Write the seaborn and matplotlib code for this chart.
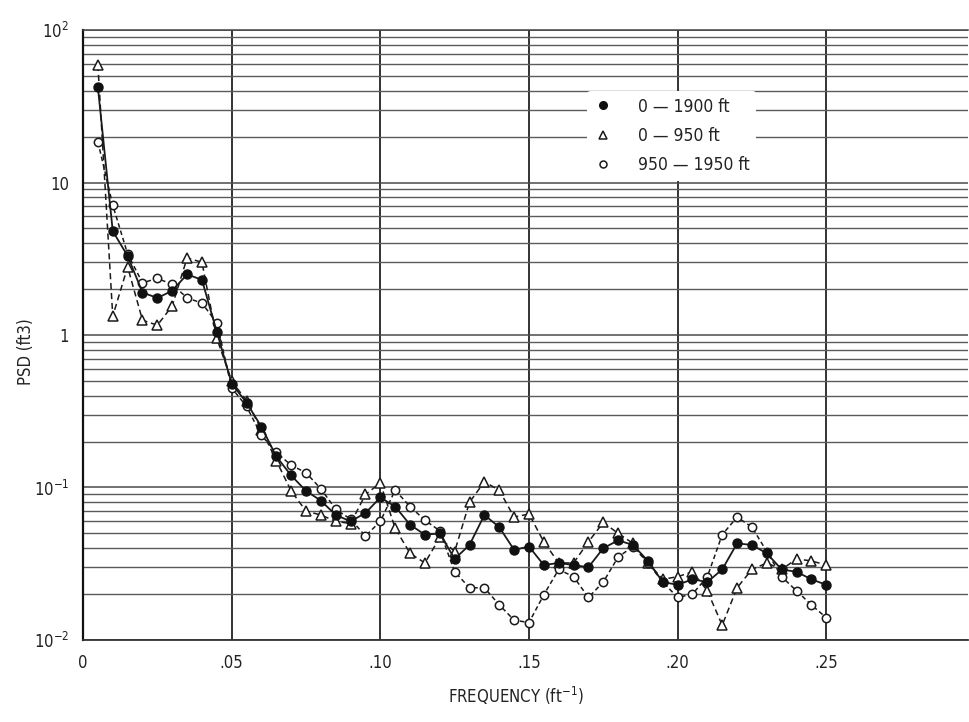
import matplotlib
matplotlib.use("Agg")
import matplotlib.pyplot as plt
from matplotlib.lines import Line2D
from matplotlib import font_manager
from matplotlib.ticker import FixedLocator, FixedFormatter, LogLocator, NullFormatter
import pandas as pd
import seaborn as sns

# Spatial frequency (cycles per ft)
freq = [0.005, 0.010, 0.015, 0.020, 0.025, 0.030, 0.035, 0.040, 0.045, 0.050,
        0.055, 0.060, 0.065, 0.070, 0.075, 0.080, 0.085, 0.090, 0.095, 0.100,
        0.105, 0.110, 0.115, 0.120, 0.125, 0.130, 0.135, 0.140, 0.145, 0.150,
        0.155, 0.160, 0.165, 0.170, 0.175, 0.180, 0.185, 0.190, 0.195, 0.200,
        0.205, 0.210, 0.215, 0.220, 0.225, 0.230, 0.235, 0.240, 0.245, 0.250]

# Power spectral density, ft^3
psd_0_1900 = [42.0, 4.8, 3.3, 1.9, 1.75, 1.95, 2.5, 2.3, 1.05, 0.48,
              0.36, 0.25, 0.16, 0.12, 0.095, 0.082, 0.066, 0.060, 0.068, 0.086,
              0.075, 0.057, 0.049, 0.050, 0.034, 0.042, 0.066, 0.055, 0.039, 0.041,
              0.031, 0.032, 0.031, 0.030, 0.040, 0.045, 0.042, 0.033, 0.024, 0.023,
              0.025, 0.024, 0.029, 0.043, 0.042, 0.037, 0.029, 0.028, 0.025, 0.023]
psd_0_950 = [59.0, 1.33, 2.8, 1.25, 1.16, 1.55, 3.2, 3.0, 0.95, 0.50,
             0.37, 0.24, 0.15, 0.095, 0.070, 0.066, 0.060, 0.058, 0.090, 0.107,
             0.054, 0.037, 0.032, 0.047, 0.038, 0.080, 0.109, 0.096, 0.064, 0.067,
             0.044, 0.032, 0.032, 0.044, 0.059, 0.050, 0.043, 0.032, 0.025, 0.026,
             0.028, 0.021, 0.0125, 0.022, 0.029, 0.032, 0.029, 0.034, 0.033, 0.031]
psd_950_1950 = [18.5, 7.1, 3.4, 2.2, 2.35, 2.15, 1.75, 1.62, 1.2, 0.45,
                0.34, 0.22, 0.17, 0.14, 0.125, 0.098, 0.072, 0.062, 0.048, 0.060,
                0.096, 0.075, 0.061, 0.052, 0.028, 0.022, 0.022, 0.017, 0.0135, 0.013,
                0.0198, 0.029, 0.026, 0.019, 0.024, 0.035, 0.041, 0.032, 0.024, 0.019,
                0.020, 0.026, 0.049, 0.064, 0.055, 0.038, 0.026, 0.021, 0.017, 0.014]

series_labels = ["0 \u2014 1900 ft", "0 \u2014 950 ft", "950 \u2014 1950 ft"]

xtick_vals = [0.0, 0.05, 0.10, 0.15, 0.20, 0.25]
xtick_labels = ["0", ".05", ".10", ".15", ".20", ".25"]
ytick_vals = [1e-2, 1e-1, 1.0, 10.0, 100.0]
ytick_labels = ["$10^{-2}$", "$10^{-1}$", "1", "10", "$10^{2}$"]

sns.set_theme(style="white")

# prefer a narrow sans face when one is installed
fonts = font_manager.fontManager.ttflist
names = {f.name for f in fonts}
if "Liberation Sans Narrow" in names:
    family = "Liberation Sans Narrow"
    stretch = "normal"
else:
    family = "DejaVu Sans"
    has_cond = any(f.name == "DejaVu Sans" and f.stretch == "condensed" for f in fonts)
    stretch = "condensed" if has_cond else "normal"
plt.rcParams["font.family"] = [family, "DejaVu Sans"]
plt.rcParams["font.stretch"] = stretch
plt.rcParams["mathtext.fontset"] = "custom"
plt.rcParams["mathtext.rm"] = family
plt.rcParams["mathtext.it"] = family
plt.rcParams["mathtext.default"] = "regular"

df = pd.DataFrame({
    "freq": freq * 3,
    "psd": psd_0_1900 + psd_0_950 + psd_950_1950,
    "series": [series_labels[0]] * len(freq) + [series_labels[1]] * len(freq)
              + [series_labels[2]] * len(freq),
})

fig, ax = plt.subplots(figsize=(9.7, 7.22), dpi=100)
fig.subplots_adjust(left=0.0856, right=0.998, bottom=0.1136, top=0.9584)

ax.set_yscale("log")
ax.set_ylim(1e-2, 1e2)
ax.set_xlim(0, 0.2977)

# log-paper grid
ax.yaxis.set_major_locator(FixedLocator(ytick_vals))
ax.yaxis.set_major_formatter(FixedFormatter(ytick_labels))
ax.yaxis.set_minor_locator(LogLocator(base=10, subs=range(2, 10)))
ax.yaxis.set_minor_formatter(NullFormatter())
ax.xaxis.set_major_locator(FixedLocator(xtick_vals + [0.30]))
ax.xaxis.set_major_formatter(FixedFormatter(xtick_labels + [""]))
ax.grid(which="major", axis="y", color="#4a4a4a", linewidth=1.1)
ax.grid(which="minor", axis="y", color="#5a5a5a", linewidth=1.0)
ax.grid(which="major", axis="x", color="#222222", linewidth=1.3)
ax.set_axisbelow(True)
ax.tick_params(which="both", length=0, labelsize=12, colors="#222222", pad=10)

styles = {
    series_labels[1]: dict(marker="^", markersize=6.5, markerfacecolor="white",
                           markeredgecolor="#1a1a1a", markeredgewidth=1.1,
                           linestyle=(0, (4, 2.5)), linewidth=1.1),
    series_labels[2]: dict(marker="o", markersize=6, markerfacecolor="white",
                           markeredgecolor="#1a1a1a", markeredgewidth=1.1,
                           linestyle=(0, (3, 2)), linewidth=1.1),
    series_labels[0]: dict(marker="o", markersize=6.5, markerfacecolor="#111111",
                           markeredgecolor="#111111", markeredgewidth=1.0,
                           linestyle="-", linewidth=1.3),
}
for name in [series_labels[1], series_labels[2], series_labels[0]]:
    sub = df[df["series"] == name]
    sns.lineplot(data=sub, x="freq", y="psd", ax=ax, color="#1a1a1a",
                 legend=False, zorder=3, **styles[name])

ax.spines["right"].set_visible(False)
ax.spines["left"].set_color("#111111")
ax.spines["left"].set_linewidth(1.6)
ax.spines["bottom"].set_color("#333333")
ax.spines["bottom"].set_linewidth(1.3)
ax.spines["top"].set_color("#444444")
ax.spines["top"].set_linewidth(1.1)

ax.set_xlabel("FREQUENCY (ft$^{-1}$)", fontsize=12, color="#222222")
ax.set_ylabel("PSD (ft3)", fontsize=12, color="#222222")
ax.xaxis.set_label_coords(0.489, -0.073)
ax.yaxis.set_label_coords(-0.054, 0.472)

handles = []
for name in series_labels:
    st = styles[name]
    handles.append(Line2D([], [], linestyle="none", marker=st["marker"],
                          markersize=st["markersize"] - 1,
                          markerfacecolor=st["markerfacecolor"],
                          markeredgecolor=st["markeredgecolor"],
                          markeredgewidth=st["markeredgewidth"]))
leg = ax.legend(handles, series_labels, loc="upper left",
                bbox_to_anchor=(0.560, 0.915), fontsize=12.5, frameon=True,
                facecolor="white", edgecolor="none", framealpha=1.0,
                handlelength=1.0, handletextpad=1.5, labelspacing=0.65,
                borderpad=0.4, borderaxespad=0.5)
for t in leg.get_texts():
    t.set_color("#222222")

fig.savefig("out.png", dpi=100, facecolor="white")
